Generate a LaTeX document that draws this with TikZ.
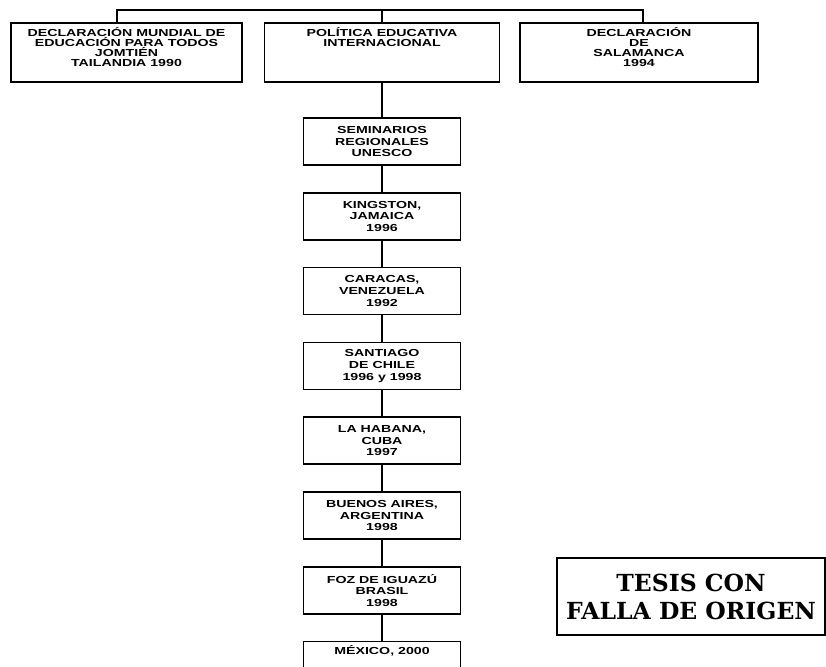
\documentclass[tikz,border=0pt]{standalone}
\usepackage{fontspec}
\usetikzlibrary{positioning}
\newfontfamily\boxfont{Liberation Sans}[FakeStretch=1.39]
\newfontfamily\tesisfont{DejaVu Serif}

\tikzset{
  wire/.style={line width=1.5pt},
  box/.style={draw, line width=1.5pt, inner sep=0pt},
  topbox/.style={box, minimum height=59pt},
  toptext/.style={inner sep=0pt, align=center, font=\boxfont\bfseries\fontsize{10.2}{10}\selectfont},
  stepbox/.style={box, minimum width=157pt, minimum height=47pt, align=center, font=\boxfont\bfseries\fontsize{10.2}{11.7}\selectfont},
  stamp/.style={draw, line width=1.8pt, minimum width=268pt, minimum height=77pt, align=center, font=\tesisfont\bfseries\fontsize{23.5}{28}\selectfont},
}

\begin{document}
\begin{tikzpicture}[x=1pt, y=1pt]
    \useasboundingbox (0,0) rectangle (826,-666);
    \coordinate (bus) at (0,-10);

    \node[topbox, minimum width=231pt] (mundial) at (126.5,-52.5) {};
    \node[topbox, minimum width=235pt] (politica) at (382,-52.5) {};
    \node[topbox, minimum width=238pt] (salamanca) at (639,-52.5) {};

    \node[toptext, below=5pt of mundial.north] (mundialtext) {DECLARACIÓN MUNDIAL DE\\EDUCACIÓN PARA TODOS\\JOMTIÉN\\TAILANDIA 1990};
    \node[toptext, below=5pt of politica.north] (politicatext) {POLÍTICA EDUCATIVA\\INTERNACIONAL};
    \node[toptext, below=5pt of salamanca.north] (salamancatext) {DECLARACIÓN\\DE\\SALAMANCA\\1994};

    \node[stepbox, below=34.5pt of politica] (seminarios) {SEMINARIOS\\REGIONALES\\UNESCO};
    \node[stepbox, below=26.3pt of seminarios] (kingston) {KINGSTON,\\JAMAICA\\1996};
    \node[stepbox, below=26.3pt of kingston] (caracas) {CARACAS,\\VENEZUELA\\1992};
    \node[stepbox, below=26.3pt of caracas] (santiago) {SANTIAGO\\DE CHILE\\1996 y 1998};
    \node[stepbox, below=26.3pt of santiago] (habana) {LA HABANA,\\CUBA\\1997};
    \node[stepbox, below=26.3pt of habana] (buenos) {BUENOS AIRES,\\ARGENTINA\\1998};
    \node[stepbox, below=26.3pt of buenos] (foz) {FOZ DE IGUAZÚ\\BRASIL\\1998};
    \node[stepbox, below=26.3pt of foz, minimum height=0pt, inner ysep=3.5pt, text depth=40pt] (mexico) {MÉXICO, 2000};

    \node[stamp] (tesis) at (691,-596.5) {TESIS CON\\FALLA DE ORIGEN};

    \coordinate (mundialtop) at ([xshift=-9.5pt]mundial.north);
    \coordinate (salamancatop) at ([xshift=4pt]salamanca.north);
    \draw[wire] (mundialtop) |- (bus -| salamancatop) -- (salamancatop);
    \draw[wire] (politica.north) -- (politica.north |- bus);

    \foreach \a/\b in {politica/seminarios, seminarios/kingston, kingston/caracas, caracas/santiago,
                       santiago/habana, habana/buenos, buenos/foz, foz/mexico}
      \draw[wire] (\a.south) -- (\b.north);
\end{tikzpicture}
\end{document}
